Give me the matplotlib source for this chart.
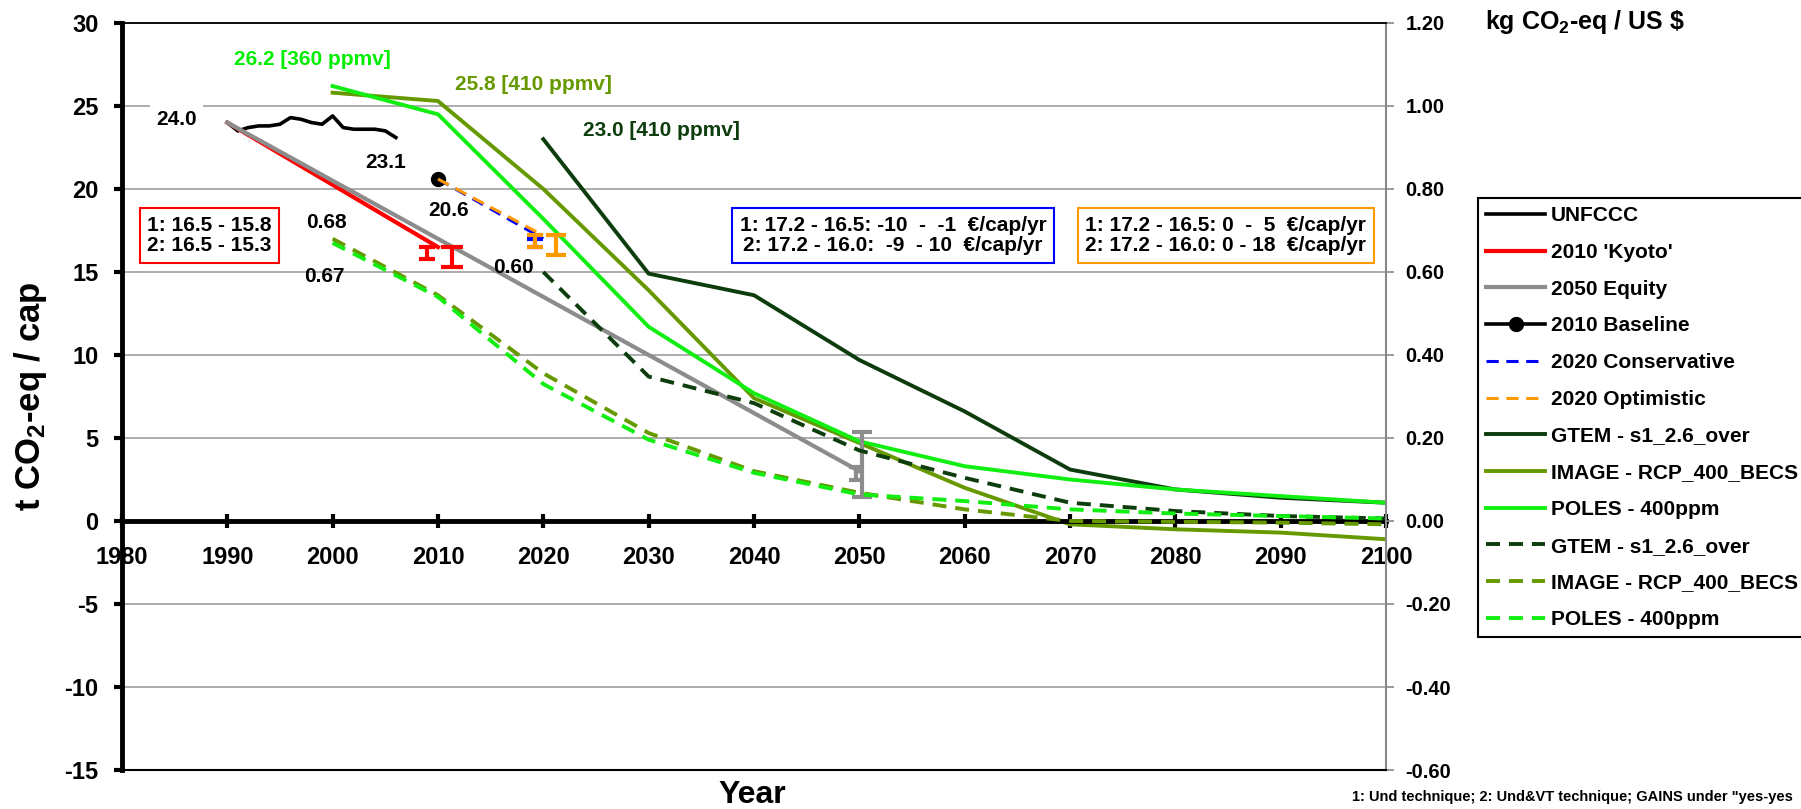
import matplotlib
matplotlib.use("Agg")
import matplotlib.pyplot as plt
import numpy as np

plt.rcParams['font.family'] = ['Liberation Sans', 'DejaVu Sans']
plt.rcParams['font.weight'] = 'bold'
plt.rcParams['axes.unicode_minus'] = False
plt.rcParams['mathtext.fontset'] = 'custom'
plt.rcParams['mathtext.default'] = 'bf'
plt.rcParams['mathtext.bf'] = 'Liberation Sans:bold'
plt.rcParams['mathtext.rm'] = 'Liberation Sans:bold'

# --- data (t CO2-eq / cap, left axis) ---
unfccc_years = list(range(1990, 2007))
unfccc = [24.0, 23.5, 23.7, 23.8, 23.8, 23.9, 24.3, 24.2, 24.0, 23.9,
          24.4, 23.7, 23.6, 23.6, 23.6, 23.5, 23.1]

kyoto_years = [1990, 2010]
kyoto = [24.0, 16.5]
equity_years = [1990, 2050]
equity = [24.0, 3.0]
baseline_year = [2010]
baseline = [20.6]
scen_years = [2010, 2020]
conservative = [20.6, 17.0]
optimistic = [20.6, 17.2]

model_years = [2000, 2010, 2020, 2030, 2040, 2050, 2060, 2070, 2080, 2090, 2100]
gtem_years = [2020, 2030, 2040, 2050, 2060, 2070, 2080, 2090, 2100]
gtem_emis = [23.0, 14.9, 13.6, 9.7, 6.6, 3.1, 1.9, 1.4, 1.1]
image_emis = [25.8, 25.3, 20.0, 13.9, 7.4, 4.7, 2.0, -0.2, -0.5, -0.7, -1.1]
poles_emis = [26.2, 24.5, 18.2, 11.7, 7.7, 4.8, 3.3, 2.5, 1.9, 1.5, 1.1]

# intensity (kg CO2-eq / US $, right axis)
gtem_int = [0.60, 0.348, 0.284, 0.17, 0.104, 0.044, 0.024, 0.012, 0.006]
image_int = [0.68, 0.544, 0.356, 0.212, 0.12, 0.068, 0.028, 0.0, -0.002, -0.004, -0.008]
poles_int = [0.67, 0.54, 0.33, 0.196, 0.116, 0.064, 0.048, 0.028, 0.018, 0.012, 0.006]

# GAINS ranges (error bars)
kyoto_bar_x = [2009.0, 2011.3]
kyoto_bar_hi = [16.5, 16.5]
kyoto_bar_lo = [15.8, 15.3]
cons_bar_x = [2019.2]
cons_bar_hi = [17.0]
cons_bar_lo = [16.5]
opt_bar_x = [2019.2, 2021.2]
opt_bar_hi = [17.2, 17.2]
opt_bar_lo = [16.5, 16.0]
equity_bar_x = [2049.7, 2050.3]
equity_bar_hi = [3.25, 5.35]
equity_bar_lo = [2.45, 1.45]

c_gtem = '#0d3d0d'
c_image = '#669900'
c_poles = '#11ee11'
c_gray = '#8c8c8c'
c_orange = '#ff9900'
DASH = (3.6, 2.3)

fig = plt.figure(figsize=(18.01, 8.09), dpi=100)
ax = fig.add_axes([0.0677, 0.0482, 0.7019, 0.9234])
ax2 = ax.twinx()

ax.set_xlim(1980, 2100)
ax.set_ylim(-15, 30)
ax2.set_ylim(-0.6, 1.2)

ax.plot(unfccc_years, unfccc, color='black', lw=2.6, label='UNFCCC')
ax.plot(kyoto_years, kyoto, color='red', lw=3, label="2010 'Kyoto'")
ax.plot(equity_years, equity, color=c_gray, lw=3, label='2050 Equity')
ax.plot(baseline_year, baseline, color='black', lw=2.6, marker='o', ms=10,
        label='2010 Baseline')
ax.plot(scen_years, conservative, color='blue', lw=2.2, dashes=(4, 2.5),
        label='2020 Conservative')
ax.plot(scen_years, optimistic, color=c_orange, lw=2.2, dashes=(4, 2.5),
        label='2020 Optimistic')
ax.plot(gtem_years, gtem_emis, color=c_gtem, lw=2.8, label='GTEM - s1_2.6_over')
ax.plot(model_years, image_emis, color=c_image, lw=2.8, label='IMAGE - RCP_400_BECS')
ax.plot(model_years, poles_emis, color=c_poles, lw=2.8, label='POLES - 400ppm')

ax2.plot(gtem_years, gtem_int, color=c_gtem, lw=2.8, dashes=DASH, label='GTEM - s1_2.6_over')
ax2.plot(model_years, image_int, color=c_image, lw=2.8, dashes=DASH, label='IMAGE - RCP_400_BECS')
ax2.plot(model_years, poles_int, color=c_poles, lw=2.8, dashes=DASH, label='POLES - 400ppm')


def range_bars(xs, hi, lo, color, caps):
    hi = np.array(hi)
    lo = np.array(lo)
    for x, h, l, c in zip(xs, hi, lo, caps):
        ax.errorbar([x], [(h + l) / 2], yerr=[(h - l) / 2], fmt='none', ecolor=color,
                    elinewidth=3, capsize=c, capthick=3, zorder=4)


range_bars(kyoto_bar_x, kyoto_bar_hi, kyoto_bar_lo, 'red', [6, 8])
range_bars(cons_bar_x, cons_bar_hi, cons_bar_lo, 'blue', [6])
range_bars(opt_bar_x, opt_bar_hi, opt_bar_lo, c_orange, [6, 7])
range_bars(equity_bar_x, equity_bar_hi, equity_bar_lo, c_gray, [5, 7])

# axes styling
ax.spines['bottom'].set_position(('data', 0))
ax.spines['bottom'].set_linewidth(3.5)
ax.spines['left'].set_linewidth(3.5)
ax.spines['top'].set_visible(False)
ax.spines['right'].set_visible(False)
ax2.spines['left'].set_visible(False)
ax2.spines['top'].set_linewidth(1.3)
ax2.spines['bottom'].set_linewidth(1.5)
ax2.spines['right'].set_color('#888888')
ax2.spines['right'].set_linewidth(1.5)

ax.set_xticks(range(1980, 2101, 10))
ax.set_yticks(range(-15, 31, 5))
ax2.set_yticks(np.arange(-0.6, 1.21, 0.2))
ax2.yaxis.set_major_formatter('{x:.2f}')
ax.tick_params(axis='x', direction='inout', length=10, width=3, labelsize=17, pad=13)
ax.tick_params(axis='y', direction='out', length=6, width=3, labelsize=17, pad=11)
ax2.tick_params(axis='y', direction='out', length=6, width=1.2, color='#888888',
                labelsize=14.5, pad=8)
ax.yaxis.grid(True, color='#a6a6a6', lw=1.3)
ax.set_axisbelow(True)

# annotations
ax.text(1985.2, 24.2, '24.0', fontsize=15, ha='center', va='center',
        bbox=dict(boxstyle='square,pad=0.3', fc='white', ec='none'))
ax.text(2005.0, 21.6, '23.1', fontsize=15, ha='center', va='center')
ax.text(2011.0, 18.7, '20.6', fontsize=15, ha='center', va='center')
ax.text(1999.4, 18.0, '0.68', fontsize=15, ha='center', va='center')
ax.text(1999.2, 14.7, '0.67', fontsize=15, ha='center', va='center')
ax.text(2017.2, 15.3, '0.60', fontsize=15, ha='center', va='center')
ax.text(1990.6, 27.8, '26.2 [360 ppmv]', fontsize=15, color='#00ee00', ha='left', va='center')
ax.text(2011.6, 26.3, '25.8 [410 ppmv]', fontsize=15, color=c_image, ha='left', va='center')
ax.text(2023.8, 23.5, '23.0 [410 ppmv]', fontsize=15, color=c_gtem, ha='left', va='center')

ax.text(1988.3, 17.2, '1: 16.5 - 15.8\n2: 16.5 - 15.3', fontsize=15, ha='center',
        va='center', linespacing=1.1,
        bbox=dict(boxstyle='square,pad=0.35', fc='white', ec='red', lw=1.5))
ax.text(2053.2, 17.2, '1: 17.2 - 16.5: -10  -  -1  €/cap/yr\n2: 17.2 - 16.0:  -9  - 10  €/cap/yr',
        fontsize=15, ha='center', va='center', linespacing=1.1,
        bbox=dict(boxstyle='square,pad=0.35', fc='white', ec='blue', lw=1.5))
ax.text(2084.8, 17.2, '1: 17.2 - 16.5: 0  -  5  €/cap/yr\n2: 17.2 - 16.0: 0 - 18  €/cap/yr',
        fontsize=15, ha='center', va='center', linespacing=1.1,
        bbox=dict(boxstyle='square,pad=0.35', fc='white', ec=c_orange, lw=1.5))

fig.text(0.0167, 0.5105, r't CO$_2$-eq / cap', rotation=90, fontsize=25,
         ha='center', va='center')
fig.text(0.4175, 0.0173, 'Year', fontsize=23, ha='center', va='center')
fig.text(0.8245, 0.973, r'kg CO$_2$-eq / US \$', fontsize=18, ha='left', va='center')
fig.text(0.7507, 0.0148, '1: Und technique; 2: Und&VT technique; GAINS under "yes-yes',
         fontsize=10.5, ha='left', va='center')

h1, l1 = ax.get_legend_handles_labels()
h2, l2 = ax2.get_legend_handles_labels()
leg = fig.legend(h1 + h2, l1 + l2, loc='upper left', bbox_to_anchor=(0.8207, 0.7553),
                 frameon=True, fancybox=False, edgecolor='black', framealpha=1,
                 prop={'weight': 'bold', 'size': 15}, handlelength=2.8,
                 handletextpad=0.3, labelspacing=0.85, borderpad=0.4,
                 borderaxespad=0, numpoints=1)
leg.get_frame().set_linewidth(1.5)

fig.savefig('out.png', dpi=100)
